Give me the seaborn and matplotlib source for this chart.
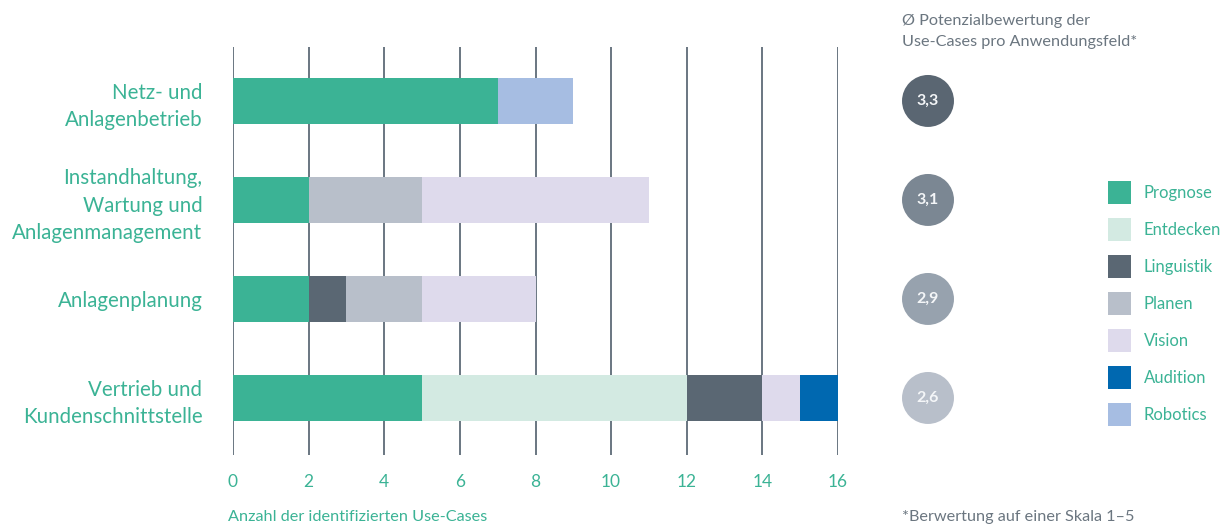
import numpy as np
import pandas as pd
import matplotlib
matplotlib.use("Agg")
import matplotlib.pyplot as plt
from matplotlib.patches import Patch
import seaborn as sns

categories = ["Netz- und\nAnlagenbetrieb",
              "Instandhaltung,\nWartung und\nAnlagenmanagement",
              "Anlagenplanung",
              "Vertrieb und\nKundenschnittstelle"]
series_names = ["Prognose", "Entdecken", "Linguistik", "Planen", "Vision", "Audition", "Robotics"]
prognose   = [7, 2, 2, 5]
entdecken  = [0, 0, 0, 7]
linguistik = [0, 0, 1, 2]
planen     = [0, 3, 2, 0]
vision     = [0, 6, 3, 1]
audition   = [0, 0, 0, 1]
robotics   = [2, 0, 0, 0]
scores = [3.3, 3.1, 2.9, 2.6]
score_labels = ["3,3", "3,1", "2,9", "2,6"]
xticks = [0, 2, 4, 6, 8, 10, 12, 14, 16]

colors = ["#3bb395", "#d3eae2", "#5a6773", "#b8bfca", "#dedaec", "#0068b0", "#a6bde2"]
circle_colors = ["#5a6672", "#7b8793", "#97a2ae", "#b8bfca"]
teal = "#3bb395"
gray_text = "#6b7680"

sns.set_theme(style="white")
plt.rcParams["font.family"] = ["Lato", "DejaVu Sans"]

W, H = 1231, 524
fig = plt.figure(figsize=(W / 100, H / 100), dpi=100)

def fx(px):
    return px / W

def fy(py):
    return 1 - py / H

ax_l, ax_r, ax_t, ax_b = 233, 838, 47, 455
ax = fig.add_axes([fx(ax_l), fy(ax_b), fx(ax_r - ax_l), (ax_b - ax_t) / H])

vals = np.array([prognose, entdecken, linguistik, planen, vision, audition, robotics], dtype=float)
cum = np.cumsum(vals, axis=0)

for k in range(len(series_names) - 1, -1, -1):
    df = pd.DataFrame({"cat": categories, "v": cum[k]})
    sns.barplot(data=df, y="cat", x="v", orient="h", color=colors[k], width=0.46,
                linewidth=0, saturation=1, ax=ax, zorder=3)

ax.set_xlim(0, 16)
ax.set_ylim(3.576, -0.545)
ax.set_xticks(xticks)
ax.set_xticklabels([str(t) for t in xticks], color=teal, fontsize=12.5)
ax.tick_params(axis="x", length=0, pad=14)
ax.tick_params(axis="y", length=0, pad=22)
for lab in ax.get_yticklabels():
    lab.set_color(teal)
    lab.set_fontsize(14.8)
    lab.set_linespacing(1.45)
    lab.set_horizontalalignment("right")
for t in xticks:
    ax.axvline(t, color="#5e6b77", lw=1.3, zorder=1)
for s in ax.spines.values():
    s.set_visible(False)
ax.set_xlabel("")
ax.set_ylabel("")

fig.text(fx(228), fy(517), "Anzahl der identifizierten Use-Cases", color=teal,
         fontsize=11.7, ha="left", va="center")

# circles axis
cax = fig.add_axes([fx(880), fy(ax_b), fx(100), (ax_b - ax_t) / H], sharey=ax)
cax.set_xlim(0, 100)
cax.scatter([48] * 4, range(4), s=1400, c=circle_colors, linewidths=0, zorder=3)
for i, lab in enumerate(score_labels):
    cax.text(48, i, lab, color="#f4f6f8", fontsize=11.5, fontweight="bold",
             ha="center", va="center", zorder=4)
cax.axis("off")

fig.text(fx(902), fy(21), "Ø Potenzialbewertung der", color=gray_text, fontsize=11.7,
         ha="left", va="center")
fig.text(fx(902), fy(42), "Use-Cases pro Anwendungsfeld*", color=gray_text, fontsize=11.7,
         ha="left", va="center")
fig.text(fx(902), fy(517), "*Berwertung auf einer Skala 1–5", color=gray_text, fontsize=11.7,
         ha="left", va="center")

handles = [Patch(facecolor=c, edgecolor="none", label=n) for c, n in zip(colors, series_names)]
fig.legend(handles=handles, loc="upper left", bbox_to_anchor=(fx(1108), fy(181)),
           frameon=False, fontsize=12, labelcolor=teal, handlelength=1.38, handleheight=1.75,
           labelspacing=0.84, handletextpad=0.75, borderpad=0, borderaxespad=0)

fig.savefig("out.png", dpi=100)
